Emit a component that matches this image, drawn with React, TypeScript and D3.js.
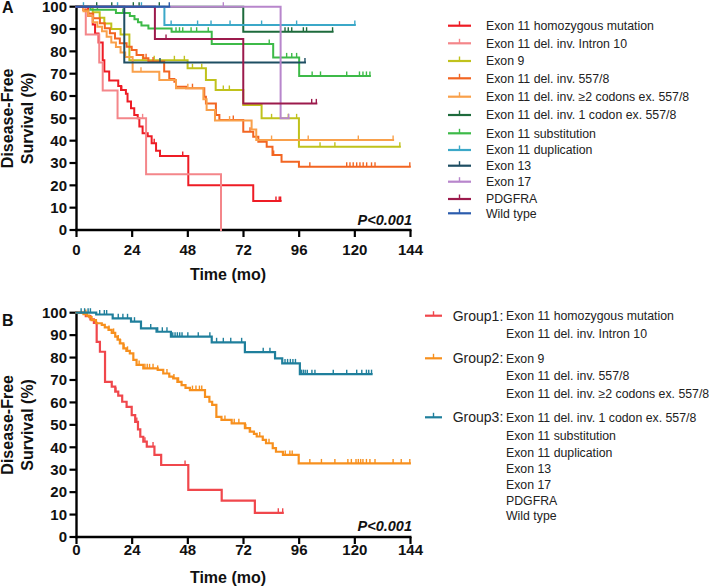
import React from 'react';
import * as d3 from 'd3';

type Step = [number, number];

const timeTicks = [0, 24, 48, 72, 96, 120, 144];
const survTicks = [0, 10, 20, 30, 40, 50, 60, 70, 80, 90, 100];

const subtypeNames = [
  'Exon 11 homozygous mutation',
  'Exon 11 del. inv. Intron 10',
  'Exon 9',
  'Exon 11 del. inv. 557/8',
  'Exon 11 del. inv. \u22652 codons ex. 557/8',
  'Exon 11 del. inv. 1 codon ex. 557/8',
  'Exon 11 substitution',
  'Exon 11 duplication',
  'Exon 13',
  'Exon 17',
  'PDGFRA',
  'Wild type',
];
const subtypeColors = [
  '#ee1c25', '#f4868a', '#c0c21c', '#f26522', '#f9a04a', '#1e6b3c',
  '#3dba48', '#3ba8c8', '#1e4e63', '#b886cc', '#9c1a4c', '#2b5cad',
];

// Panel A: Kaplan-Meier steps [time (mo), survival (%)]
const homSteps: Step[] = [[0,100],[5,96],[7,92],[8,88],[9.5,84],[11.3,76],[12,71],[14.1,67],[18,64.5],[19.2,62.7],[21.3,61],[22,57.5],[23.5,54.5],[24.9,51.5],[26.4,50],[27.1,46.3],[28.5,43.3],[30.7,42],[32.4,38.8],[34.3,35.5],[36,33.1],[48.2,20],[76.2,13]];
const homCensors = [19.5, 33.5, 45.8, 86, 87.4, 88];
const homEnd = 88;

const intronSteps: Step[] = [[0,100],[4,87.5],[9.8,75],[11.3,62.5],[17.7,50],[30,25],[62.3,0]];
const intronCensors = [28.5];
const intronEnd = 62.3;

const exon9Steps: Step[] = [[0,100],[7,97.5],[10,95],[12,92.5],[15,90],[19,87.5],[22.8,76],[47.9,72.4],[55.8,67.2],[60,62.7],[71.9,56],[79.8,50],[95.9,37.3]];
const exon9Censors = [28.5,33.5,42.2,46.5,50,54,63.3,65.9,84.1,91.3,94.9,105,111.4,139.4];
const exon9End = 139.4;

const del5578Steps: Step[] = [[0,100],[2.9,98.5],[5.1,97],[7.2,94.8],[10.1,92.6],[12.2,90.3],[14.4,88.1],[16.6,85.8],[18.7,83.6],[21.6,82.1],[23.8,80.6],[25.9,78.4],[28.8,76.9],[31,75.5],[37.8,71],[40,67.6],[42.2,66.4],[42.9,64.2],[47.2,63.5],[55.1,59.7],[55.8,56.7],[60.1,51.5],[61.6,49.3],[71.9,44],[76.2,41.8],[78.4,39.5],[82,37.3],[84.5,33.6],[88.4,30.6],[95.9,28.3]];
const del5578Censors = [30,33,50,67.6,74.8,85,100.6,116.5,117.9,119.3,120.8,122.2,123.6,125.1,127.2,128.7,143.7];
const del5578End = 143.7;

const del2Steps: Step[] = [[0,100],[3,98],[5,96],[7,93],[9,91],[11,89],[13,86.5],[15,84],[17,82],[19,79.5],[21,77.5],[24.2,70.9],[35.7,67.2],[42.9,63.5],[54.7,58.6],[56.1,53.7],[59.7,49],[75.5,45],[77.5,40.3]];
const del2Censors = [27.8,48,66,84.1,99.9,121.5,136.5];
const del2End = 136.5;

const del1Steps: Step[] = [[0,100],[71.9,88.8]];
const del1Censors = [8.7,15.2,24.5,27,35.7,89.9,91.3,92.8,97.8,99.2,110.4];
const del1End = 110.4;

const substSteps: Step[] = [[0,100],[6,98.6],[17,97.2],[23,95.8],[25,94.4],[26.5,93],[28,91.6],[31,90.2],[41,88.8],[58.3,83.3],[84.8,77.3],[96,69]];
const substCensors = [9,20,42.9,44.4,45.8,49.4,51.8,56.8,83.1,90.6,92.8,94.9,101.6,105.2,116.5,122,123.5,125,126.5];
const substEnd = 126.5;

const dupSteps: Step[] = [[0,100],[37.9,91.8]];
const dupCensors = [3,17.7,28,40.8,52.2,58,66.2,79.8,94.9,120];
const dupEnd = 120;

const exon13Steps: Step[] = [[0,100],[20.6,75]];
const exon13Censors = [36, 98.5];
const exon13End = 98.5;

const exon17Steps: Step[] = [[0,100],[88,50]];
const exon17Censors = [63.3, 91.5];
const exon17End = 91.5;

const pdgfraSteps: Step[] = [[0,100],[33.8,85.5],[71.9,56.7]];
const pdgfraCensors = [38.6, 101.4, 103.4];
const pdgfraEnd = 103.4;

const wildSteps: Step[] = [[0,100]];
const wildCensors = [40];
const wildEnd = 40;

const subtypeSteps = [homSteps, intronSteps, exon9Steps, del5578Steps, del2Steps, del1Steps, substSteps, dupSteps, exon13Steps, exon17Steps, pdgfraSteps, wildSteps];
const subtypeCensors = [homCensors, intronCensors, exon9Censors, del5578Censors, del2Censors, del1Censors, substCensors, dupCensors, exon13Censors, exon17Censors, pdgfraCensors, wildCensors];
const subtypeEnds = [homEnd, intronEnd, exon9End, del5578End, del2End, del1End, substEnd, dupEnd, exon13End, exon17End, pdgfraEnd, wildEnd];

// Panel B
const groupLabels = ['Group1:', 'Group2:', 'Group3:'];
const groupColors = ['#f0474c', '#f7901e', '#1f7f9c'];
const groupMembers = [
  ['Exon 11 homozygous mutation', 'Exon 11 del. inv. Intron 10'],
  ['Exon 9', 'Exon 11 del. inv. 557/8', 'Exon 11 del. inv. \u22652 codons ex. 557/8'],
  ['Exon 11 del. inv. 1 codon ex. 557/8', 'Exon 11 substitution', 'Exon 11 duplication', 'Exon 13', 'Exon 17', 'PDGFRA', 'Wild type'],
];

const group1Steps: Step[] = [[0,100],[4,98.5],[6,97],[7.5,95.5],[8.7,87],[10.1,82.6],[12.3,69.2],[15.2,67],[16.7,64.8],[18,63],[19.7,60.3],[21.6,58],[23.8,54.3],[25.3,51.3],[26.5,48],[27.5,44.7],[28.8,42.5],[30.3,40.3],[33.6,36.6],[36.5,32.1],[48.2,21],[62.6,16.2],[76.9,10.8]];
const group1Censors = [17,26,29.5,33,46.8,87,88.9];
const group1End = 88.9;

const group2Steps: Step[] = [[0,100],[3,99.4],[4.5,98.7],[5.5,98],[6.5,96.7],[8.4,95.3],[10.9,94.6],[12.2,93.5],[13.8,92.3],[15.2,91],[16.7,89.3],[17.7,88],[18.7,86.3],[20.2,84.1],[21.5,83],[23,81.9],[24.5,79],[25.9,76.7],[28.8,75.2],[35,74.5],[37.4,72.9],[40,71.5],[41.7,70.7],[43.5,69.2],[45.3,67.7],[47,66.5],[48.9,65.5],[55.4,62.5],[57.3,60.3],[58.5,58.9],[60.3,53.6],[62.5,52.2],[66.9,50.7],[72.6,48.5],[74.7,47],[76.5,46],[77.7,44.8],[80.3,43.3],[81.7,41.8],[84.6,39.6],[86,38],[89,36.6],[95.8,32.8]];
const group2Censors = [4,14,16,18,19,20.5,22,27,29.5,30.5,31.5,33,35,39,42,44,50,51.5,53,54,64,68,70,73,75,79,83,90,92,93,100.6,105.6,111.4,117,118.5,120.5,121.5,122.5,123.5,125,126.5,128.7,136.5,140,143.7];
const group2End = 143.7;

const group3Steps: Step[] = [[0,100],[8.5,99.2],[15.6,97.5],[23.5,96],[27.8,93],[34.5,91.5],[40.7,89.3],[58.3,86.8],[72.6,82.4],[85.6,79.6],[88.7,77.4],[96.3,72.6]];
const group3Censors = [2,3.5,5,6,10,12,13,18,20,22,25,32,35,37,39,41.5,42.5,43.5,44.5,45.5,48,52.5,57.5,60.4,63.3,66.5,71.2,80.5,83.4,89.9,91,92.2,93.3,94.4,97,97.8,98.6,99.5,101.5,102.8,110.7,116.5,120.8,123,125,126,127.2];
const group3End = 127.2;

const groupSteps = [group1Steps, group2Steps, group3Steps];
const groupCensors = [group1Censors, group2Censors, group3Censors];
const groupEnds = [group1End, group2End, group3End];

const FONT = "'Liberation Sans', Arial, Helvetica, sans-serif";

const x = d3.scaleLinear().domain([0, 144]).range([76.5, 410.5]);
const yA = d3.scaleLinear().domain([0, 100]).range([230, 6.7]);
const yB = d3.scaleLinear().domain([0, 100]).range([537, 312.7]);

function survAt(steps: Step[], t: number) {
  let s = steps[0][1];
  for (const [tt, ss] of steps) if (tt <= t) s = ss;
  return s;
}

function Curve({ steps, censors, end, y, color, width }: any) {
  const p = d3.path();
  p.moveTo(x(0), y(steps[0][1]));
  let cy = y(steps[0][1]);
  for (let i = 1; i < steps.length; i++) {
    p.lineTo(x(steps[i][0]), cy);
    cy = y(steps[i][1]);
    p.lineTo(x(steps[i][0]), cy);
  }
  p.lineTo(x(end), cy);
  return (
    <g>
      <path d={p.toString()} fill="none" stroke={color} strokeWidth={width} strokeLinejoin="miter" strokeLinecap="square" />
      {censors.map((c: number, i: number) => {
        const yy = y(survAt(steps, c));
        return <line key={i} x1={x(c)} x2={x(c)} y1={yy} y2={yy - 4.5} stroke={color} strokeWidth={1.4} />;
      })}
    </g>
  );
}

function Axes({ y, labelY, titleY, pY, letter, letterY }: any) {
  const y0 = y(0);
  const yMid = (y(0) + y(100)) / 2;
  return (
    <g fontFamily={FONT} fill="#111">
      <text x={2} y={letterY} fontSize={16} fontWeight="bold">{letter}</text>
      <line x1={x(0)} x2={x(0)} y1={y(100) - 1} y2={y0 + 1.2} stroke="#000" strokeWidth={2.4} />
      <line x1={x(0) - 1.2} x2={x(144) + 1} y1={y0} y2={y0} stroke="#000" strokeWidth={2.4} />
      {survTicks.map((v) => (
        <g key={v}>
          <line x1={x(0) - 7} x2={x(0)} y1={y(v)} y2={y(v)} stroke="#000" strokeWidth={2.2} />
          <text x={67} y={y(v) + 5.3} fontSize={15} fontWeight="bold" textAnchor="end">{v}</text>
        </g>
      ))}
      {timeTicks.map((t) => (
        <g key={t}>
          <line x1={x(t)} x2={x(t)} y1={y0} y2={y0 + 7} stroke="#000" strokeWidth={2.2} />
          <text x={x(t)} y={labelY} fontSize={15} fontWeight="bold" textAnchor="middle">{t}</text>
        </g>
      ))}
      <text x={228} y={titleY} fontSize={16} fontWeight="bold" textAnchor="middle">Time (mo)</text>
      <text transform={`translate(13,${yMid}) rotate(-90)`} fontSize={16} fontWeight="bold" textAnchor="middle">Disease-Free</text>
      <text transform={`translate(32.5,${yMid}) rotate(-90)`} fontSize={16} fontWeight="bold" textAnchor="middle">Survival (%)</text>
      <text x={412} y={pY} fontSize={14.5} fontWeight="bold" fontStyle="italic" textAnchor="end">P&lt;0.001</text>
    </g>
  );
}

const legendRowsA = [25.7, 43.3, 61, 78.3, 96.7, 115, 133.3, 150, 165.7, 181.7, 199, 213.3];
const legendRowsB = [[315.7, 333.3], [358.3, 376, 393.3], [417.3, 435.7, 452.7, 469, 484.3, 500.7, 516]];

export default function App() {
  return (
    <svg width={709} height={587} style={{ position: 'absolute', left: 0, top: 0, background: '#fff' }}>
      <rect width={709} height={587} fill="#fff" />
      {/* Panel A */}
      <Axes y={yA} labelY={255} titleY={279.5} pY={225} letter="A" letterY={13} />
      {subtypeSteps.map((s, i) => (
        <Curve key={i} steps={s} censors={subtypeCensors[i]} end={subtypeEnds[i]} y={yA} color={subtypeColors[i]} width={2} />
      ))}
      <g fontFamily={FONT}>
        {subtypeNames.map((n, i) => (
          <g key={n}>
            <line x1={448} x2={471} y1={legendRowsA[i]} y2={legendRowsA[i]} stroke={subtypeColors[i]} strokeWidth={2.2} />
            <line x1={459.5} x2={459.5} y1={legendRowsA[i]} y2={legendRowsA[i] - 4.5} stroke={subtypeColors[i]} strokeWidth={1.4} />
            <text x={486} y={legendRowsA[i] + 4.3} fontSize={12.3} fill="#222">{n}</text>
          </g>
        ))}
      </g>
      {/* Panel B */}
      <Axes y={yB} labelY={555} titleY={583} pY={531} letter="B" letterY={326} />
      {groupSteps.map((s, i) => (
        <Curve key={i} steps={s} censors={groupCensors[i]} end={groupEnds[i]} y={yB} color={groupColors[i]} width={2.2} />
      ))}
      <g fontFamily={FONT}>
        {groupLabels.map((g, i) => {
          const ry = legendRowsB[i][0];
          return (
            <g key={g}>
              <line x1={425} x2={442} y1={ry} y2={ry} stroke={groupColors[i]} strokeWidth={2.2} />
              <line x1={433.5} x2={433.5} y1={ry} y2={ry - 4.5} stroke={groupColors[i]} strokeWidth={1.4} />
              <text x={452.7} y={ry + 5} fontSize={14} fill="#222">{g}</text>
              {groupMembers[i].map((m, j) => (
                <text key={m} x={506} y={legendRowsB[i][j] + 4.3} fontSize={12.3} fill="#222">{m}</text>
              ))}
            </g>
          );
        })}
      </g>
    </svg>
  );
}
